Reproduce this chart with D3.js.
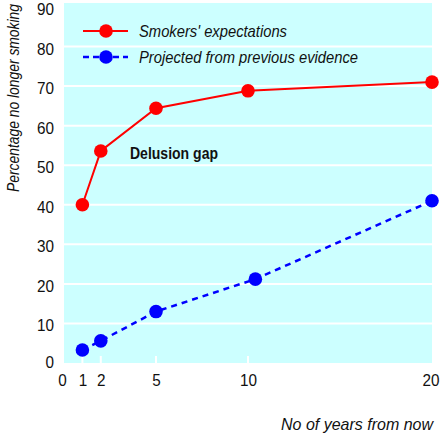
<!DOCTYPE html>
<html><head><meta charset="utf-8">
<script src="https://cdn.jsdelivr.net/npm/d3@7"></script>
<style>
html,body{margin:0;padding:0;background:#fff;}
text{font-family:"Liberation Sans Narrow","Arial Narrow","Liberation Sans",Arial,sans-serif;fill:#111;}
</style></head>
<body>
<svg id="chart" width="440" height="435"></svg>
<script>
const xTicks = [0, 1, 2, 5, 10, 20];
const yTicks = [0, 10, 20, 30, 40, 50, 60, 70, 80, 90];
const seriesNames = ["Smokers' expectations", "Projected from previous evidence"];
const expectX = [1, 2, 5, 10, 20];
const expectY = [40, 53.6, 64.4, 68.8, 71];
const projX = [1, 2, 5, 10.4, 20];
const projY = [3.3, 5.6, 13, 21.2, 41];
const annotation = "Delusion gap";
const xTitle = "No of years from now";
const yTitle = "Percentage no longer smoking";

const svg = d3.select("#chart");
const x = d3.scaleLinear().domain([0, 20]).range([64, 432]);
const y = d3.scaleLinear().domain([0, 91]).range([363, 3]);

svg.append("rect").attr("x", x(0)).attr("y", y(91)).attr("width", x(20) - x(0)).attr("height", y(0) - y(91)).attr("fill", "#ccffff");

svg.append("g").selectAll("line").data(yTicks.filter(d => d > 0 && d < 90)).join("line")
  .attr("x1", x(0)).attr("x2", x(20)).attr("y1", d => y(d)).attr("y2", d => y(d))
  .attr("stroke", "#fff").attr("stroke-width", 2);

svg.append("g").selectAll("line").data(xTicks.filter(d => d > 0 && d < 20)).join("line")
  .attr("x1", d => x(d)).attr("x2", d => x(d)).attr("y1", y(0)).attr("y2", y(0) - 7)
  .attr("stroke", "#fff").attr("stroke-width", 2);

const digitW = 8.5;
const yAxis = svg.append("g").attr("transform", `translate(${x(0)},0)`)
  .call(d3.axisLeft(y).tickValues(yTicks).tickSize(0).tickPadding(10));
yAxis.select(".domain").remove();
yAxis.selectAll("text").attr("font-size", 17).attr("font-family", null).attr("fill", "#111")
  .attr("dy", d => d === 0 ? "4.5px" : "7.5px")
  .attr("textLength", d => String(d).length * digitW).attr("lengthAdjust", "spacingAndGlyphs");

const xAxis = svg.append("g").attr("transform", `translate(0,${y(0) - 1})`)
  .call(d3.axisBottom(x).tickValues(xTicks).tickSize(0).tickPadding(12));
xAxis.select(".domain").remove();
xAxis.selectAll("text").attr("font-size", 17).attr("font-family", null).attr("fill", "#111")
  .attr("dx", d => d === 0 ? -2 : (d === 20 ? -1.5 : 0))
  .attr("textLength", d => String(d).length * digitW).attr("lengthAdjust", "spacingAndGlyphs");

const line = d3.line().x(d => x(d[0])).y(d => y(d[1]));
const expect = expectX.map((v, i) => [v, expectY[i]]);
const proj = projX.map((v, i) => [v, projY[i]]);

svg.append("path").datum(proj).attr("d", line).attr("fill", "none")
  .attr("stroke", "#0000ff").attr("stroke-width", 2.5).attr("stroke-dasharray", "6,5");
svg.append("g").selectAll("circle").data(proj).join("circle")
  .attr("cx", d => x(d[0])).attr("cy", d => y(d[1])).attr("r", 6.8).attr("fill", "#0000ff");

svg.append("path").datum(expect).attr("d", line).attr("fill", "none")
  .attr("stroke", "#ff0000").attr("stroke-width", 2);
svg.append("g").selectAll("circle").data(expect).join("circle")
  .attr("cx", d => x(d[0])).attr("cy", d => y(d[1])).attr("r", 6.8).attr("fill", "#ff0000");

// legend
const legend = [
  {name: seriesNames[0], color: "#ff0000", dash: null, yy: 31, w: 148},
  {name: seriesNames[1], color: "#0000ff", dash: "6,4", yy: 57, w: 219}
];
legend.forEach(l => {
  svg.append("line").attr("x1", 83).attr("x2", 128).attr("y1", l.yy).attr("y2", l.yy)
    .attr("stroke", l.color).attr("stroke-width", l.dash ? 2.5 : 2).attr("stroke-dasharray", l.dash);
  svg.append("circle").attr("cx", 106).attr("cy", l.yy).attr("r", 6.8).attr("fill", l.color);
  svg.append("text").attr("x", 139).attr("y", l.yy + 6).attr("font-size", 17).attr("font-style", "italic")
    .attr("textLength", l.w).attr("lengthAdjust", "spacingAndGlyphs").text(l.name);
});

svg.append("text").attr("x", 130).attr("y", 159).attr("font-size", 17).attr("font-weight", "bold")
  .attr("textLength", 88).attr("lengthAdjust", "spacingAndGlyphs").text(annotation);

svg.append("text").attr("x", 433).attr("y", 430).attr("text-anchor", "end").attr("font-size", 17)
  .attr("font-style", "italic").attr("textLength", 152).attr("lengthAdjust", "spacingAndGlyphs").text(xTitle);

svg.append("text").attr("transform", "translate(19,98) rotate(-90)").attr("text-anchor", "middle")
  .attr("font-size", 17).attr("font-style", "italic").attr("textLength", 188).attr("lengthAdjust", "spacingAndGlyphs").text(yTitle);
</script>
</body></html>
